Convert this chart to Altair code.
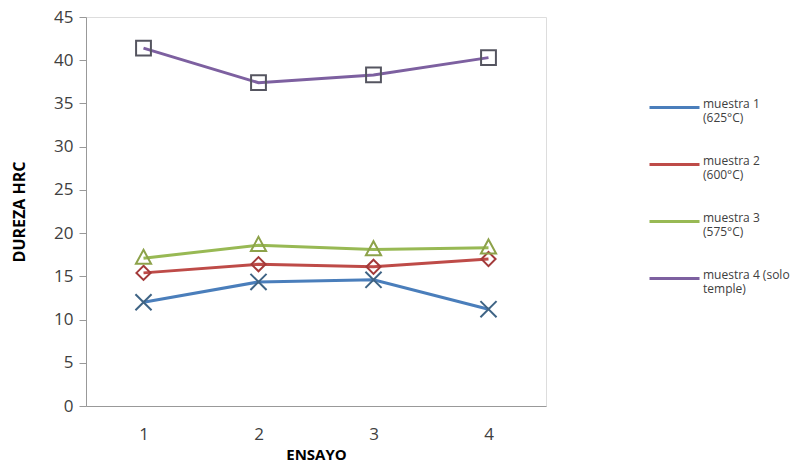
import altair as alt
import pandas as pd

ensayos = [1, 2, 3, 4]
series = ["muestra 1 (625°C)", "muestra 2 (600°C)", "muestra 3 (575°C)", "muestra 4 (solo temple)"]
legend_lines = [["muestra 1", "(625°C)"], ["muestra 2", "(600°C)"], ["muestra 3", "(575°C)"], ["muestra 4 (solo", "temple)"]]
m1 = [12.0, 14.35, 14.6, 11.2]
m2 = [15.4, 16.4, 16.1, 17.0]
m3 = [17.1, 18.6, 18.1, 18.3]
m4 = [41.4, 37.4, 38.3, 40.3]

line_colors = ["#4a7ebb", "#be4b48", "#98b954", "#7d60a0"]
marker_colors = ["#3f6485", "#a33a3a", "#8da24a", "#555560"]
shapes = [
    "M-1,-1L1,1M-1,1L1,-1",
    "M0,-1L1,0L0,1L-1,0Z",
    "M0,-1.1L1,0.75L-1,0.75Z",
    "M-1,-1L1,-1L1,1L-1,1Z",
]
marker_sizes = [260, 200, 230, 220]

rows = []
for s, vals in zip(series, [m1, m2, m3, m4]):
    for e, v in zip(ensayos, vals):
        rows.append({"ensayo": str(e), "serie": s, "dureza": v})
df = pd.DataFrame(rows)

label_expr = " : ".join(
    [f"datum.label == '{s}' ? ['{a}', '{b}']" for s, (a, b) in zip(series, legend_lines)]
) + " : datum.label"

x_enc = alt.X("ensayo:N", scale=alt.Scale(type="point", padding=0.5),
              axis=alt.Axis(title="ENSAYO", labelAngle=0, ticks=False, labelPadding=20,
                            labelFontSize=17, labelColor="#404040", titleFontSize=15,
                            titleFontWeight="bold", titlePadding=5, domainColor="#999999"))
y_enc = alt.Y("dureza:Q", scale=alt.Scale(domain=[0, 45], nice=False),
              axis=alt.Axis(title="DUREZA HRC", values=list(range(0, 50, 5)), grid=False,
                            tickSize=7, tickColor="#999999", domainColor="#999999",
                            labelPadding=6, labelFontSize=17, labelColor="#404040",
                            titleFontSize=16, titleFontWeight="bold", titlePadding=26))

base = alt.Chart(df)
lines = base.mark_line(strokeWidth=3).encode(
    x=x_enc, y=y_enc,
    color=alt.Color("serie:N", scale=alt.Scale(domain=series, range=line_colors),
                    legend=alt.Legend(title=None, orient="none", legendX=562, legendY=64,
                                      symbolType="M-1,0L1,0", symbolSize=2500,
                                      symbolStrokeWidth=3, labelFontSize=12,
                                      labelColor="#404040", labelExpr=label_expr,
                                      labelBaseline="alphabetic",
                                      rowPadding=14, labelOffset=2, labelLimit=200)),
)

point_layers = []
for s, shp, col, sz in zip(series, shapes, marker_colors, marker_sizes):
    point_layers.append(
        base.transform_filter(alt.datum.serie == s)
        .mark_point(filled=False, strokeWidth=2, opacity=1, shape=shp, size=sz, stroke=col)
        .encode(x="ensayo:N", y="dureza:Q")
    )

chart = alt.layer(lines, *point_layers).properties(
    width=460, height=389,
    autosize=alt.AutoSizeParams(type="none"),
    padding={"left": 78, "top": 9, "right": 247, "bottom": 55},
).configure_view(stroke="#000000", strokeWidth=1.5).configure(
    font="Open Sans"
)

chart.save("out.html", embed_options={"renderer": "svg", "actions": False})
